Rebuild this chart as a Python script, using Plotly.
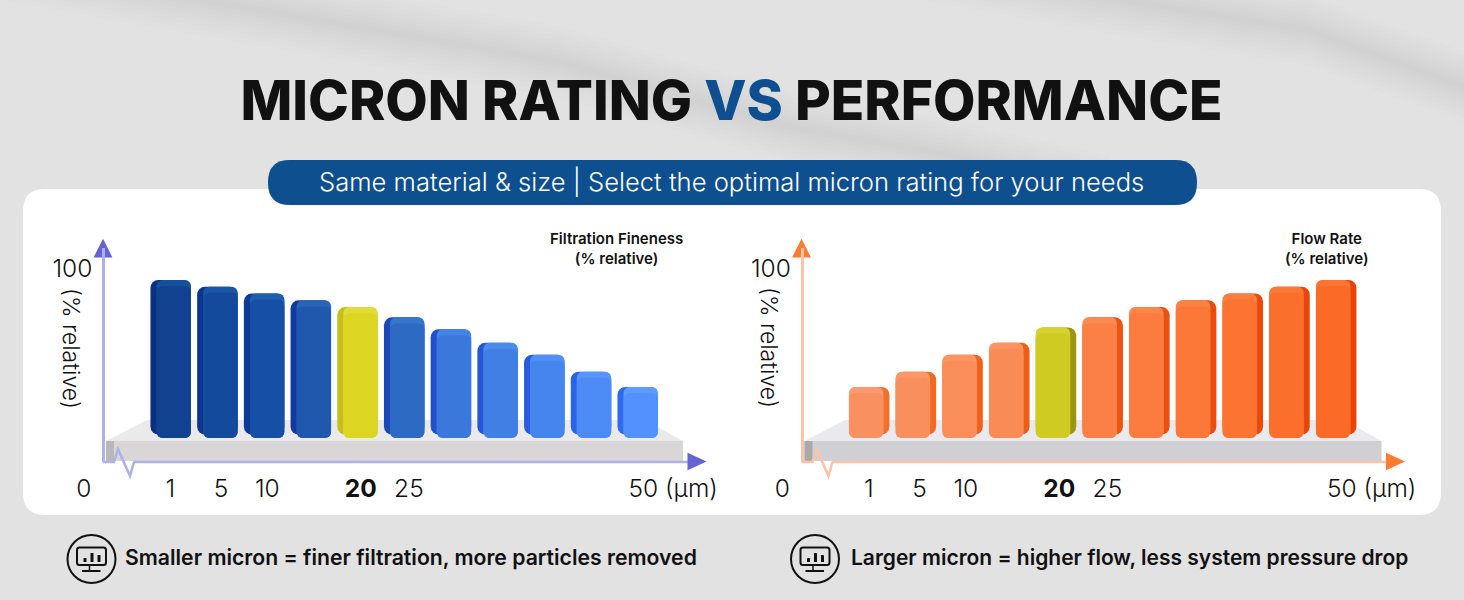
import plotly.graph_objects as go

W, H = 1464, 600

# ---- data ----
bar_slots = list(range(11))
fineness = [93, 89, 85, 81, 77, 71, 64, 56, 49, 39, 30]
flow = [30, 39, 49, 56, 65, 71, 77, 81, 85, 89, 93]
tick_labels = ["0", "1", "5", "10", "<b>20</b>", "25", "50 (µm)"]
tick_slots = [-1.86, -0.01, 1.08, 2.07, 4.07, 5.10, 10.76]

fine_face = ["#10428f", "#134a9b", "#1650a6", "#2058ae", "#dcd623", "#2c6ac4", "#3a78dc", "#4080e4", "#4585ee", "#4c8bf6", "#5291ff"]
fine_side = ["#0a2f85", "#0d3490", "#0e389a", "#11399f", "#c5bf1a", "#1b48b8", "#2250cc", "#2456d8", "#275ce0", "#2b62ea", "#3069f2"]
fine_cap = ["#15509c", "#1a56a4", "#1e5cae", "#2a64b8", "#e2dc3a", "#3476cc", "#4484e2", "#4a8cea", "#4f90f2", "#5696f8", "#5c9cff"]
flow_face = ["#f89060", "#f98f5c", "#f98e5a", "#f98c56", "#cfcb20", "#fb8045", "#fb7c3e", "#fb7838", "#fb7432", "#fb6e2c", "#fb6a26"]
flow_side = ["#f4702a", "#f26a22", "#f0621c", "#ee5c18", "#9a9612", "#ec5414", "#ea5010", "#ea4c0e", "#ea480c", "#e9460a", "#e94408"]
flow_cap = ["#fb9a70", "#fb986a", "#fb9664", "#fb9460", "#d6d232", "#fb8a52", "#fb864a", "#fb8244", "#fb7e3e", "#fb7838", "#fb7432"]

DEPTH = 3.6
BAR_W = 0.867
SIDE_W = 0.13


def px(x):
    return x / W


def py(y):
    return 1 - y / H


def path(points, close=True):
    s = "M" + " L".join(f"{px(x):.5f},{py(y):.5f}" for x, y in points)
    return s + (" Z" if close else "")


def rounded(x0, y0, x1, y1, r):
    a, b = px(r), r / H
    L, R, T, B = px(x0), px(x1), py(y0), py(y1)
    return (f"M{L+a:.5f},{T:.5f} L{R-a:.5f},{T:.5f} Q{R:.5f},{T:.5f} {R:.5f},{T-b:.5f} "
            f"L{R:.5f},{B+b:.5f} Q{R:.5f},{B:.5f} {R-a:.5f},{B:.5f} L{L+a:.5f},{B:.5f} "
            f"Q{L:.5f},{B:.5f} {L:.5f},{B+b:.5f} L{L:.5f},{T-b:.5f} Q{L:.5f},{T:.5f} {L+a:.5f},{T:.5f} Z")


def sh(p, fill="rgba(0,0,0,0)", line=None, lw=0, op=1):
    return dict(type="path", xref="paper", yref="paper", path=p, fillcolor=fill, opacity=op,
                line=dict(color=line or "rgba(0,0,0,0)", width=lw), layer="below")


shapes = []
# soft darker diagonal bands in the backdrop, built from nested translucent ribbons
band_a = [(-50, -45), (190, -2), (375, 30), (560, 62), (794, 128), (934, 152), (1110, 192)]
band_b = [(870, -45), (1110, -2), (1308, 30), (1500, 100)]
for band in (band_a, band_b):
    for half in (36, 31, 26, 21, 16, 12, 8, 4):
        ribbon = [(x, y - half) for x, y in band] + [(x, y + half) for x, y in reversed(band)]
        shapes.append(sh(path(ribbon), "#000000", op=0.009))
# card and pill
shapes.append(sh(rounded(23, 189, 1441, 515, 22), "#ffffff"))
shapes.append(sh(rounded(268, 160, 1197, 205, 22), "#0e4f8f"))

card_layout = [
    dict(dx=0, line="#aeb0ea", arrow="#6464d2", top="#ebeaea", front="#d8d6d6", end="#b9b8b8"),
    dict(dx=698.5, line="#fcc3a6", arrow="#fb7c32", top="#e9e9ee", front="#d0d0d4", end="#a9a9ac"),
]
for c in card_layout:
    d = c["dx"]
    shapes.append(sh(path([(106 + d, 441), (147 + d, 420), (645 + d, 420), (683 + d, 441)]), c["top"]))
    shapes.append(sh(path([(106 + d, 441), (683 + d, 441), (683 + d, 461), (106 + d, 461)]), c["front"]))
    shapes.append(sh(path([(106 + d, 441), (114 + d, 441), (114 + d, 461), (106 + d, 461)]), c["end"]))
    shapes.append(sh(path([(103 + d, 462), (114 + d, 462), (118 + d, 449), (130 + d, 476), (134 + d, 462), (690 + d, 462)], close=False),
                     line=c["line"], lw=2.5))
    shapes.append(sh(path([(103 + d, 242), (110 + d, 256), (96 + d, 256)]), c["arrow"], c["arrow"], 3))
    shapes.append(sh(path([(689 + d, 455), (703 + d, 461.5), (689 + d, 468)]), c["arrow"], c["arrow"], 3))

# icons
for cx in (91.5, 815):
    r = 24
    shapes.append(dict(type="circle", xref="paper", yref="paper", x0=px(cx - r), x1=px(cx + r), y0=py(559 + r), y1=py(559 - r),
                       line=dict(color="#111111", width=2), layer="below"))
    shapes.append(sh(rounded(cx - 14.5, 547.5, cx + 14.5, 565, 2.5), line="#111111", lw=2))
    shapes.append(sh(path([(cx - 9.5, 571), (cx + 9, 571)], close=False), line="#111111", lw=2))
    shapes.append(sh(path([(cx - 2, 565), (cx - 2, 571)], close=False), line="#111111", lw=1.5))
    for bx, by in ((-8, 558), (-1, 553), (6, 555)):
        shapes.append(sh(rounded(cx + bx, by, cx + bx + 3, 562, 0.5), "#111111"))

fig = go.Figure()


def add_chart(values, face, side, cap, axis_suffix, face_offset):
    xa, ya = "x" + axis_suffix, "y" + axis_suffix
    common = dict(x=bar_slots, xaxis=xa, yaxis=ya, showlegend=False, hoverinfo="skip", marker_line_width=0)
    # side, top cap, front face; a base is given so both ends of each bar are rounded
    fig.add_trace(go.Bar(y=[v - 2 for v in values], base=[2] * 11, width=BAR_W, offset=-BAR_W / 2,
                         marker=dict(color=side, cornerradius=8), **common))
    fig.add_trace(go.Bar(y=values, base=[0] * 11, width=BAR_W - SIDE_W, offset=face_offset,
                         marker=dict(color=cap, cornerradius=6), **common))
    fig.add_trace(go.Bar(y=[v - DEPTH for v in values], base=[0] * 11, width=BAR_W - SIDE_W, offset=face_offset,
                         marker=dict(color=face, cornerradius=6), **common))


add_chart(fineness, fine_face, fine_side, fine_cap, "", -BAR_W / 2 + SIDE_W)
add_chart(flow, flow_face, flow_side, flow_cap, "2", -BAR_W / 2)

LIGHT = dict(family="Inter, Lato, sans-serif", size=24.5, color="#111111", weight=300)
x_range = [(60 - 170.7) / 46.7, (722 - 170.7) / 46.7]
y_range = [-(462 - 438) / 1.7, (438 - 248) / 1.7]


def xaxis(dom0, dom1, anchor):
    return dict(domain=[px(dom0), px(dom1)], range=x_range, anchor=anchor, showgrid=False, zeroline=False,
                showline=False, tickmode="array", tickvals=tick_slots, ticktext=tick_labels, ticks="",
                ticklabelstandoff=9, tickangle=0, tickfont=LIGHT, fixedrange=True)


def yaxis(pos, color):
    return dict(domain=[py(462), py(248)], range=y_range, anchor="free", position=px(pos), showgrid=False,
                zeroline=False, showline=True, linecolor=color, linewidth=2.5, tickmode="array", tickvals=[100],
                ticktext=["100"], ticks="", ticklabelstandoff=5, tickfont=LIGHT, fixedrange=True)


def note(text, x, y, size=14, weight=600, color="#111111", angle=0, anchor="center"):
    return dict(text=text, x=px(x), y=py(y), xref="paper", yref="paper", showarrow=False, xanchor=anchor, yanchor="middle",
                textangle=angle, align="center",
                font=dict(family="Inter, Lato, sans-serif", size=size, color=color, weight=weight))


annotations = [
    note("Same material &amp; size | Select the optimal micron rating for your needs", 731.5, 181, size=25.6, weight=300, color="#ffffff"),
    note("Filtration Fineness<br>(% relative)", 616, 248, size=15),
    note("Flow Rate<br>(% relative)", 1327, 248, size=15),
    note("(% relative)", 71, 348, size=23, weight=300, angle=90),
    note("(% relative)", 769, 348, size=23, weight=300, angle=90),
    note("Smaller micron = finer filtration, more particles removed", 123, 557, size=21.2, anchor="left"),
    note("Larger micron = higher flow, less system pressure drop", 849, 557, size=21, anchor="left"),
]

fig.update_layout(
    width=W, height=H, margin=dict(l=0, r=0, t=0, b=0), autosize=False,
    paper_bgcolor="#e2e2e2", plot_bgcolor="rgba(0,0,0,0)", barmode="overlay",
    title=dict(text='MICRON RATING <span style="color:#0f4f8f">VS</span> PERFORMANCE', x=731.5 / W, xanchor="center",
               y=py(101), yanchor="middle", font=dict(family="Inter, Lato, sans-serif", size=55, color="#111111", weight=800)),
    xaxis=xaxis(60, 722, "y"), yaxis=yaxis(103, "#aeb0ea"),
    xaxis2=xaxis(758.5, 1420.5, "y2"), yaxis2=yaxis(801.5, "#fcc3a6"),
    shapes=shapes, annotations=annotations,
)

fig.write_html("out.html", config=dict(displayModeBar=False),
               post_script="document.body.style.margin='0';document.body.style.overflow='hidden';")
